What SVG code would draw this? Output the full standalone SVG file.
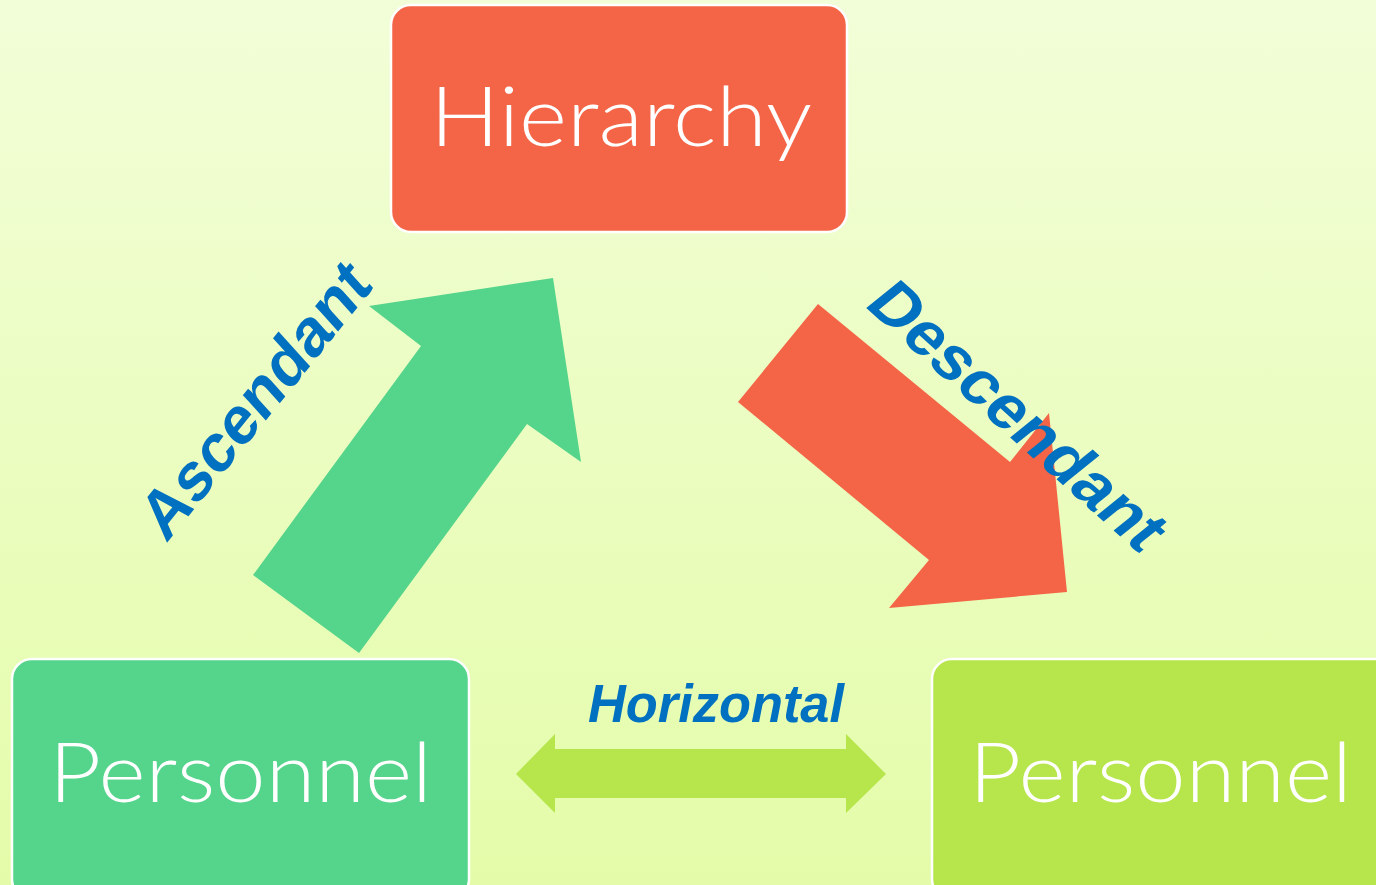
<svg xmlns="http://www.w3.org/2000/svg" width="1376" height="885" viewBox="0 0 1376 885">
  <defs>
    <linearGradient id="bg" x1="0" y1="0" x2="0" y2="1">
      <stop offset="0" stop-color="#F2FED8"/>
      <stop offset="1" stop-color="#E4FCA9"/>
    </linearGradient>
  </defs>
  <style>
    .box { stroke: #FFFFFF; stroke-width: 2.5; }
    .node-text { font-family: Lato, "Open Sans", "Liberation Sans", sans-serif; font-weight: 300; font-size: 82px; fill: #FFFFFF; }
    .label { font-family: "Liberation Sans", Arial, sans-serif; font-weight: bold; font-size: 64px; fill: #0070C0; }
    .label-h { font-family: "Liberation Sans", Arial, sans-serif; font-weight: bold; font-style: italic; font-size: 54px; fill: #0070C0; }
  </style>

  <rect width="1376" height="885" fill="url(#bg)"/>

  <!-- block arrows between the levels -->
  <g id="connectors">
    <polygon id="arrow-up" fill="#55D48B" points="253,575 359,653 527,424 581,462 553,278 369,306 421,346"/>
    <polygon id="arrow-down" fill="#F46547" points="818,304 738,402 929,560 889,608 1067,592 1049,413 1010,462"/>
    <polygon id="arrow-both" fill="#B6E54C" points="516,774 555,734 555,749 846,749 846,734 886,774 846,813 846,798 555,798 555,813"/>
    <text class="label" transform="translate(166,544) rotate(-51) skewX(-9)" textLength="330" lengthAdjust="spacingAndGlyphs">Ascendant</text>
    <text class="label" transform="translate(863,305) rotate(42) skewX(-9)" textLength="372" lengthAdjust="spacingAndGlyphs">Descendant</text>
    <text class="label-h" x="588" y="722" textLength="256" lengthAdjust="spacingAndGlyphs">Horizontal</text>
  </g>

  <g id="node-hierarchy">
    <rect class="box" x="391" y="5" width="456" height="227" rx="20" fill="#F46547"/>
    <text class="node-text" x="430" y="146" textLength="382" lengthAdjust="spacingAndGlyphs">Hierarchy</text>
  </g>

  <g id="node-personnel-left">
    <rect class="box" x="12" y="659" width="457" height="240" rx="20" fill="#55D48B"/>
    <text class="node-text" x="49" y="802" textLength="383" lengthAdjust="spacingAndGlyphs">Personnel</text>
  </g>

  <g id="node-personnel-right">
    <rect class="box" x="932" y="659" width="470" height="240" rx="20" fill="#B6E54C"/>
    <text class="node-text" x="969" y="802" textLength="383" lengthAdjust="spacingAndGlyphs">Personnel</text>
  </g>
</svg>
